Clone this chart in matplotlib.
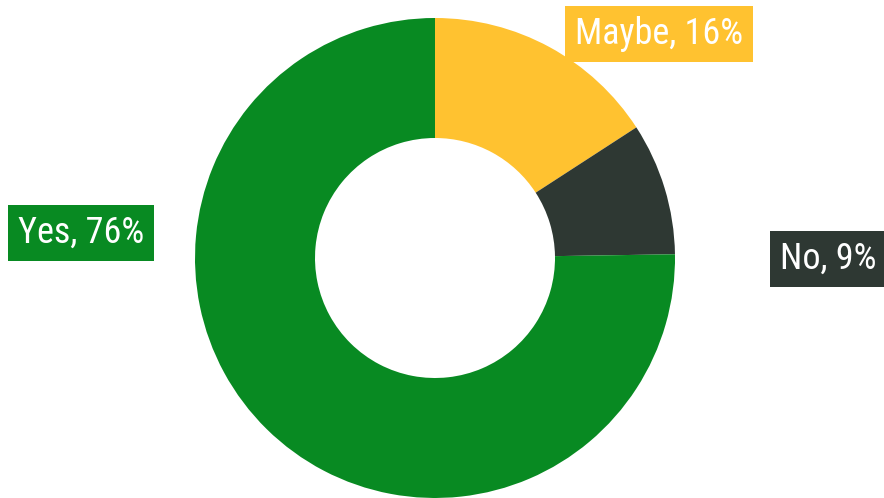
import matplotlib
matplotlib.use("Agg")
import matplotlib.pyplot as plt

labels = ["Maybe", "No", "Yes"]
values = [16, 9, 76]
colors = ["#FFC230", "#2E3833", "#088A22"]

W, H = 884, 498
fig = plt.figure(figsize=(W / 100, H / 100), dpi=100)
ax = fig.add_axes([0, 0, 1, 1])

family = ["Roboto Condensed", "Liberation Sans", "DejaVu Sans"]

cx, cy, r = 435, 240, 240
ax.pie(values, colors=colors, startangle=90, counterclock=False,
       radius=r, center=(cx, cy),
       wedgeprops=dict(width=r * 0.5, linewidth=0))

# label boxes in pixel coordinates (y measured upward)
label_pos = {"Maybe": (659, 464), "No": (828, 239), "Yes": (81, 265)}
for lab, val, col in zip(labels, values, colors):
    x, y = label_pos[lab]
    ax.text(x, y, f"{lab}, {val}%", ha="center", va="center",
            fontsize=26, color="white", family=family,
            bbox=dict(boxstyle="square,pad=0.27", facecolor=col, edgecolor="none"))

ax.set_xlim(0, W)
ax.set_ylim(0, H)
ax.set_aspect("equal")
ax.axis("off")
fig.savefig("out.png", dpi=100)
